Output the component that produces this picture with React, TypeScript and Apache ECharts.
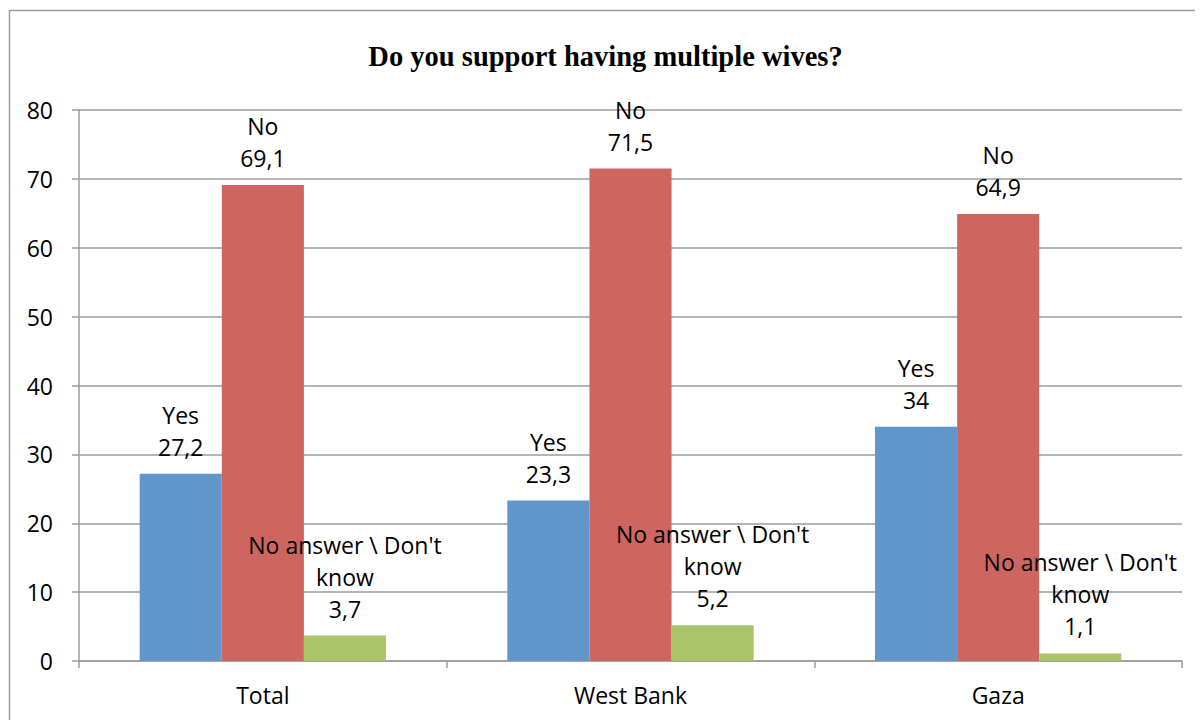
import React, { useEffect, useRef } from "react";
import * as echarts from "echarts";

const categories = ["Total", "West Bank", "Gaza"];
const yesValues = [27.2, 23.3, 34];
const noValues = [69.1, 71.5, 64.9];
const dkValues = [3.7, 5.2, 1.1];
const seriesNames = ["Yes", "No", "No answer \\ Don't know"];
const seriesLabelPrefix = ["Yes", "No", "No answer \\ Don't\nknow"];
const yTicks = { min: 0, max: 80, interval: 10 };
const titleText = "Do you support having multiple wives?";

const colors = ["#6096CA", "#CD6660", "#AAC46A"];
const gray = "#9c9c9c";
const labelFont = "'Open Sans', sans-serif";

const fmt = (v: number) => String(v).replace(".", ",");

export default function App() {
  const ref = useRef<HTMLDivElement>(null);
  useEffect(() => {
    if (!ref.current) return;
    const chart = echarts.init(ref.current, null, { renderer: "svg" });
    const values = [yesValues, noValues, dkValues];
    chart.setOption({
      animation: false,
      backgroundColor: "#ffffff",
      title: {
        text: titleText,
        left: "center",
        top: 29,
        textStyle: {
          fontFamily: "'Liberation Serif', serif",
          fontWeight: "bold",
          fontSize: 28.5,
          color: "#000",
        },
      },
      graphic: [
        {
          type: "rect",
          shape: { x: 1.5, y: 2.5, width: 1400, height: 900 },
          style: { fill: "none", stroke: gray, lineWidth: 1.5 },
          silent: true,
        },
      ],
      grid: { left: 71, right: 21, top: 102, bottom: 59 },
      xAxis: {
        type: "category",
        data: categories,
        axisLine: { lineStyle: { color: gray, width: 1.5 } },
        axisTick: { show: true, length: 7, lineStyle: { color: gray, width: 1.5 } },
        axisLabel: {
          margin: 22,
          fontSize: 23,
          fontFamily: labelFont,
          color: "#000",
        },
      },
      yAxis: {
        type: "value",
        min: yTicks.min,
        max: yTicks.max,
        interval: yTicks.interval,
        axisLine: { show: true, lineStyle: { color: gray, width: 1.5 } },
        axisTick: { show: true, length: 7, lineStyle: { color: gray, width: 1.5 } },
        splitLine: { lineStyle: { color: gray, width: 1.5 } },
        axisLabel: {
          margin: 26,
          fontSize: 23,
          fontFamily: labelFont,
          color: "#000",
        },
      },
      series: seriesNames.map((name, i) => ({
        name,
        type: "bar",
        data: values[i],
        barGap: "0%",
        barCategoryGap: "33%",
        itemStyle: { color: colors[i] },
        label: {
          show: true,
          position: "top",
          distance: 11,
          fontSize: 23,
          lineHeight: 32,
          fontFamily: labelFont,
          color: "#000",
          align: "center",
          formatter: (p: any) => `${seriesLabelPrefix[i]}\n${fmt(p.value)}`,
        },
      })),
    });
    return () => chart.dispose();
  }, []);
  return <div ref={ref} style={{ width: 1195, height: 712, overflow: "hidden" }} />;
}
